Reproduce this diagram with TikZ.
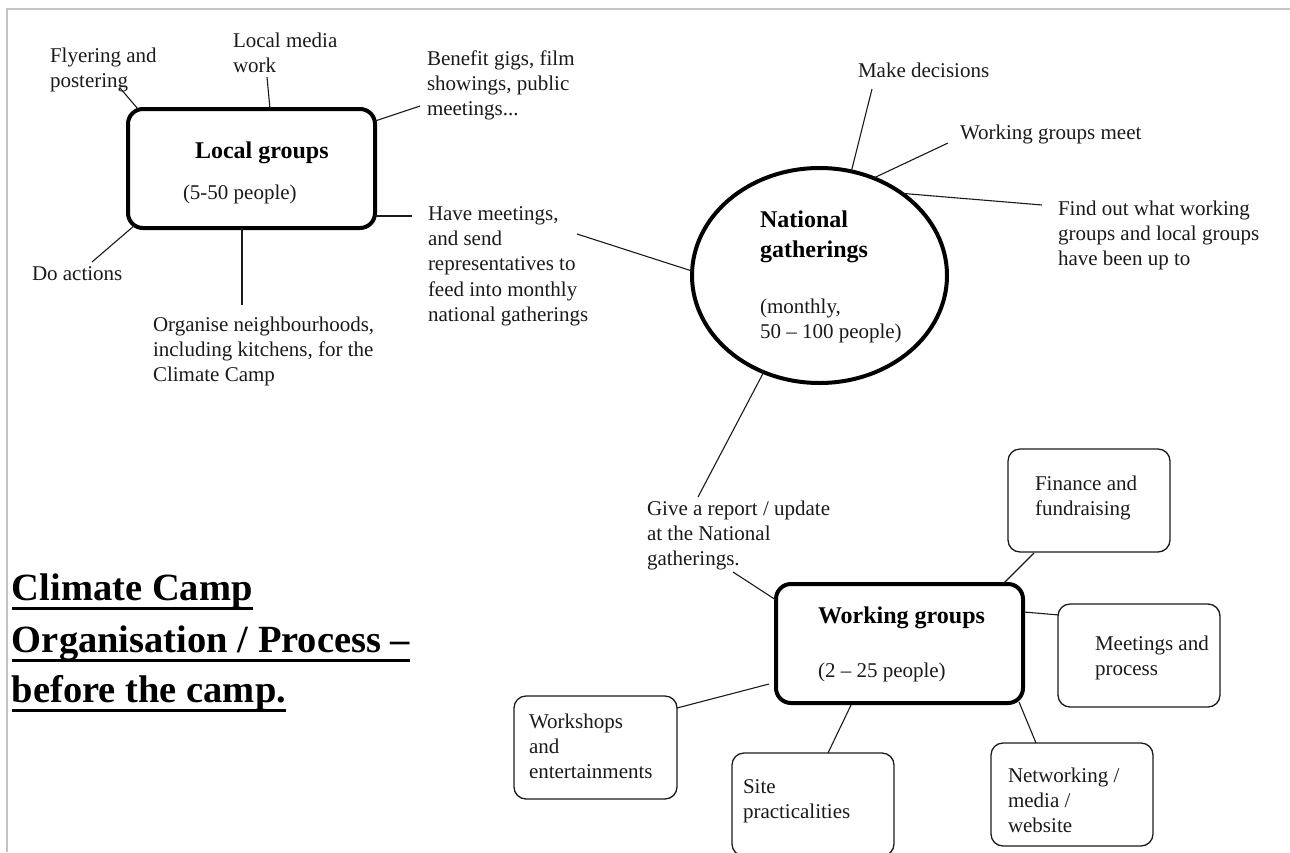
\documentclass[tikz,border=0pt]{standalone}
\usepackage{fontspec}
\setmainfont{Liberation Serif}
\usetikzlibrary{shapes.geometric,calc}
\definecolor{framegray}{HTML}{C4C4C4}
\definecolor{ink}{HTML}{1A1A1A}
\begin{document}
\begin{tikzpicture}[x=1pt,y=-1pt,
  every node/.style={inner sep=0pt,outer sep=0pt},
  lbl/.style={anchor=base west,align=left,font=\fontsize{21}{25.4}\selectfont,text=ink},
  bold/.style={anchor=base west,align=left,font=\fontsize{24}{30}\selectfont\bfseries},
  hdr/.style={anchor=base west,font=\fontsize{38.5}{51}\selectfont\bfseries},
  bigbox/.style={draw,line width=4pt,rounded corners=15pt,minimum width=247pt,minimum height=119pt,anchor=north west},
  smallbox/.style={draw=ink,line width=1.3pt,rounded corners=12pt,minimum width=162pt,minimum height=103pt,anchor=north west},
  conn/.style={line width=1.1pt,draw=ink},
  ulc/.style={line width=3pt}
]
\useasboundingbox (0,0) rectangle (1290,852);
% frame
\draw[framegray,line width=1.5pt] (7,852) -- (7,9) -- (1290,9);

% ---------- Local groups ----------
\node[bigbox] (lg) at (128,109) {};
\node[bold] (lgt) at (195,158) {Local groups};
\node[lbl] (lgs) at (183,199) {(5-50 people)};

% multi-line labels are placed by the baseline of their last line
\node[lbl] (fly) at (50,87.4) {Flyering and\\postering};
\node[lbl] (media) at (233,72.4) {Local media\\work};
\node[lbl] (benefit) at (427,115.8) {Benefit gigs, film\\showings, public\\meetings...};
\node[lbl] (doact) at (32,280) {Do actions};
\node[lbl] (organise) at (153,381.8) {Organise neighbourhoods,\\including kitchens, for the\\Climate Camp};
\node[lbl] (havemeet) at (428,321.6) {Have meetings,\\and send\\representatives to\\feed into monthly\\national gatherings};

\coordinate (fly-e) at (120,88);
\coordinate (media-e) at (267,77);
\coordinate (benefit-e) at (420,106);
\coordinate (doact-e) at (92,262);
\coordinate (organise-e) at (242,305);
\coordinate (havemeet-e) at (412,216);
\coordinate (havemeet-f) at (577,234);

\draw[conn] (fly-e) -- ($(lg.north west)+(10,0)$);
\draw[conn] (media-e) -- ($(lg.north west)+(142,0)$);
\draw[conn] (benefit-e) -- ($(lg.north east)+(0,12)$);
\draw[conn] (doact-e) -- ($(lg.south west)+(7,-3)$);
\draw[conn] (organise-e) -- ($(lg.south west)+(114,0)$);
\draw[conn] (havemeet-e) -- ($(lg.south east)+(0,-12)$);

% ---------- National gatherings ----------
\node[draw,ellipse,line width=4pt,minimum width=255pt,minimum height=215pt] (ng) at (819.5,275.5) {};
\node[bold] (ngt) at (760,257) {National\\gatherings};
\node[lbl] (ngs) at (760,338.4) {(monthly,\\50 -- 100 people)};

\node[lbl] (make) at (858,77) {Make decisions};
\node[lbl] (wgmeet) at (960,139) {Working groups meet};
\node[lbl] (findout) at (1058,265.8) {Find out what working\\groups and local groups\\have been up to};
\node[lbl] (report) at (647,565.8) {Give a report / update\\at the National\\gatherings.};

\coordinate (make-e) at (872,89);
\coordinate (wgmeet-e) at (948,143);
\coordinate (findout-e) at (1042,205);
\coordinate (report-e) at (698,497);
\coordinate (report-f) at (733,572);

\draw[conn] (make-e) -- (ng.73);
\draw[conn] (wgmeet-e) -- (ng.61);
\draw[conn] (findout-e) -- (ng.45);
\draw[conn] (havemeet-f) -- (ng.178.5);
\draw[conn] (report-e) -- (ng.240);

% ---------- Working groups ----------
\node[bigbox] (wg) at (776,584) {};
\node[bold] (wgt) at (818,623) {Working groups};
\node[lbl] (wgs) at (818,677) {(2 -- 25 people)};

\node[smallbox] (fin) at (1008,449) {};
\node[lbl] (fint) at (1035,515.4) {Finance and\\fundraising};
\node[smallbox] (mtg) at (1058,604) {};
\node[lbl] (mtgt) at (1095,675.4) {Meetings and\\process};
\node[smallbox] (net) at (991,743) {};
\node[lbl] (nett) at (1008,832.8) {Networking /\\media /\\website};
\node[smallbox] (site) at (732,753) {};
\node[lbl] (sitet) at (743,818.4) {Site\\practicalities};
\node[smallbox,minimum width=163pt] (ws) at (514,696) {};
\node[lbl] (wst) at (529,778.8) {Workshops\\and\\entertainments};

\draw[conn] (report-f) -- ($(wg.north west)+(0,16)$);
\draw[conn] ($(ws.north east)+(0,12)$) -- ($(wg.south west)+(-7,-19)$);
\draw[conn] ($(site.north west)+(96,0)$) -- ($(wg.south west)+(75,2)$);
\draw[conn] ($(fin.south west)+(26,1)$) -- ($(wg.north east)+(-20,0)$);
\draw[conn] ($(wg.north east)+(1,28)$) -- ($(mtg.north west)+(1,11)$);
\draw[conn] ($(wg.south east)+(-4,-1)$) -- ($(net.north west)+(45,0)$);

% ---------- Title ----------
\node[hdr] (t1) at (12,600) {Climate Camp};
\node[hdr] (t2) at (12,652) {Organisation / Process --};
\node[hdr] (t3) at (12,702) {before the camp.};
\draw[ulc] ($(t1.base west)+(0,8)$) -- ($(t1.base east)+(0,8)$);
\draw[ulc] ($(t2.base west)+(0,8)$) -- ($(t2.base east)+(0,8)$);
\draw[ulc] ($(t3.base west)+(0,8)$) -- ($(t3.base east)+(0,8)$);
\end{tikzpicture}
\end{document}
